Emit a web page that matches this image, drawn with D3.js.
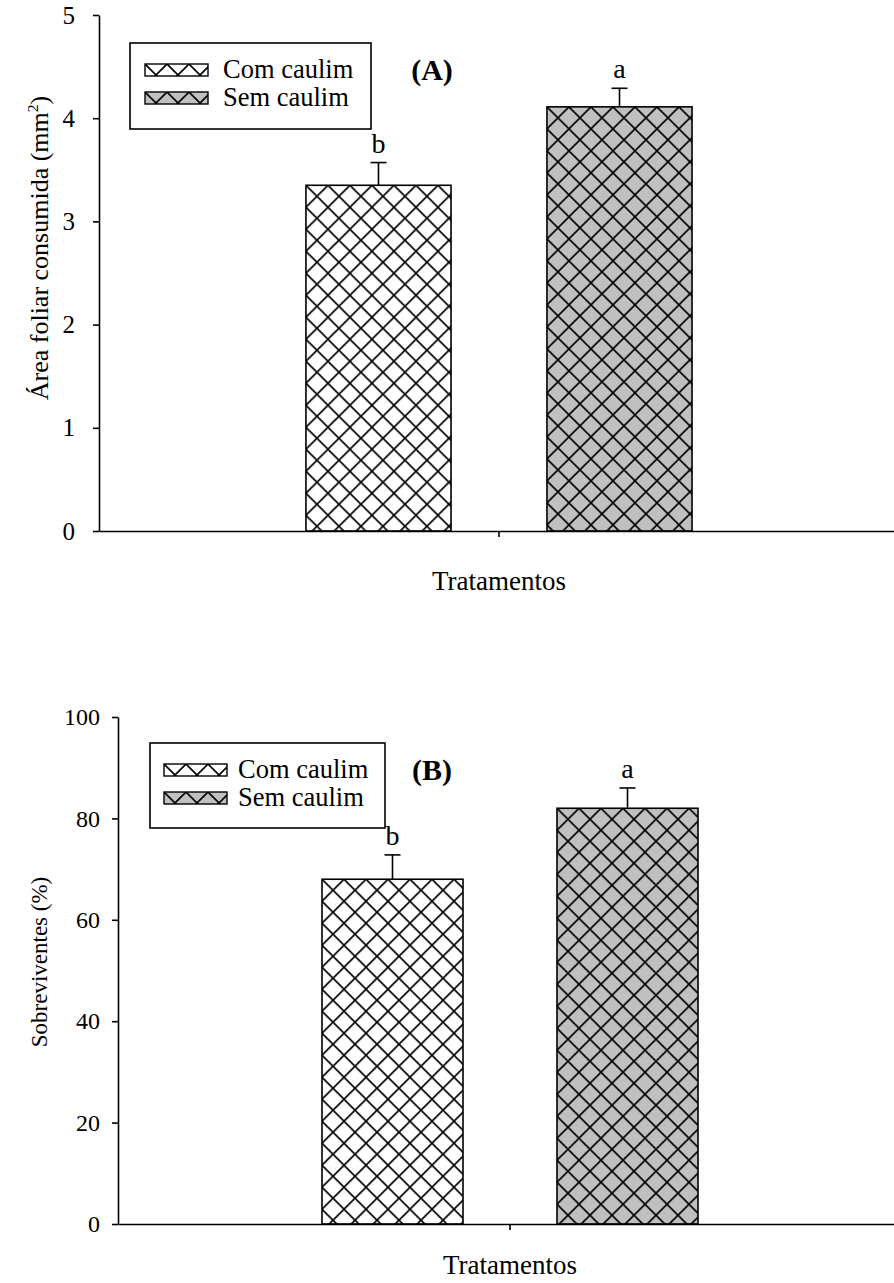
<!DOCTYPE html>
<html>
<head>
<meta charset="utf-8">
<script src="https://cdn.jsdelivr.net/npm/d3@7"></script>
<style>
  body { margin: 0; background: #fff; }
  svg text { font-family: "Liberation Serif", "Times New Roman", "DejaVu Serif", serif; fill: #000; }
</style>
</head>
<body>
<script>
// ---------- DATA ----------
const categories = ["Com caulim", "Sem caulim"];
const groupLabel = ["Tratamentos"];
const areaValues = [3.35, 4.11];
const areaErrors = [0.22, 0.18];
const survValues = [68, 82];
const survErrors = [4.8, 4.0];
const letters = ["b", "a"];
const areaTicks = [0, 1, 2, 3, 4, 5];
const survTicks = [0, 20, 40, 60, 80, 100];
const fills = ["#ffffff", "#c0c0c0"];

// ---------- SETUP ----------
const W = 894, H = 1283;
const svg = d3.select("body").append("svg").attr("width", W).attr("height", H);
const defs = svg.append("defs");
const SERIF = "'Liberation Serif', 'Times New Roman', 'DejaVu Serif', serif";

function makePattern(id, fill, tx, ty) {
  const p = defs.append("pattern").attr("id", id)
    .attr("patternUnits", "userSpaceOnUse")
    .attr("width", 22).attr("height", 22)
    .attr("patternTransform", `translate(${tx},${ty})`);
  p.append("rect").attr("width", 22).attr("height", 22).attr("fill", fill);
  p.append("path")
    .attr("d", "M0,0L22,22 M-11,11L11,33 M11,-11L33,11 M22,0L0,22 M-11,11L11,-11 M11,33L33,11")
    .attr("stroke", "#000").attr("stroke-width", 1.6).attr("fill", "none");
  return `url(#${id})`;
}

function drawPanel(cfg, values, errors, ticks) {
  const g = svg.append("g").style("font-family", SERIF);
  const y = d3.scaleLinear().domain([ticks[0], ticks[ticks.length - 1]]).range([cfg.y0, cfg.y1]);
  const xOuter = d3.scaleBand().domain(groupLabel).range([cfg.x0, cfg.x1])
    .paddingInner(0).paddingOuter(cfg.outerPad);
  const xInner = d3.scaleBand().domain(categories)
    .range([0, xOuter.bandwidth()]).paddingInner(cfg.innerPad).paddingOuter(0);

  // bars
  categories.forEach((c, i) => {
    const bx = xOuter(groupLabel[0]) + xInner(c);
    const by = y(values[i]);
    const fillUrl = makePattern(`${cfg.id}-bar-${i}`, fills[i], bx, by);
    g.append("rect")
      .attr("x", bx).attr("y", by)
      .attr("width", xInner.bandwidth()).attr("height", y(0) - by)
      .attr("fill", fillUrl).attr("stroke", "#000").attr("stroke-width", 1.6);
    // error bar (upper)
    const cx = bx + xInner.bandwidth() / 2;
    const ey = y(values[i] + errors[i]);
    g.append("line").attr("x1", cx).attr("x2", cx).attr("y1", by).attr("y2", ey)
      .attr("stroke", "#000").attr("stroke-width", 1.6);
    g.append("line").attr("x1", cx - 8).attr("x2", cx + 8).attr("y1", ey).attr("y2", ey)
      .attr("stroke", "#000").attr("stroke-width", 1.6);
    g.append("text").attr("x", cx).attr("y", ey - 10)
      .attr("text-anchor", "middle").attr("font-size", 28).text(letters[i]);
  });

  // y axis
  const yAxis = d3.axisLeft(y).tickValues(ticks).tickFormat(d3.format("d"))
    .tickSize(6).tickPadding(cfg.tickPad).tickSizeOuter(0);
  const ya = g.append("g").attr("transform", `translate(${cfg.x0},0)`).call(yAxis)
    .attr("font-family", null).attr("font-size", null);
  ya.select(".domain").attr("stroke", "#000").attr("stroke-width", 1.6);
  ya.selectAll(".tick line").attr("stroke", "#000").attr("stroke-width", 1.6);
  ya.selectAll(".tick text").attr("font-size", cfg.tickSize).attr("fill", "#000");

  // x axis
  const xAxis = d3.axisBottom(xOuter).tickSize(6).tickSizeOuter(0).tickFormat("");
  const xa = g.append("g").attr("transform", `translate(0,${cfg.y0})`).call(xAxis);
  xa.select(".domain").attr("stroke", "#000").attr("stroke-width", 1.6);
  xa.selectAll(".tick line").attr("stroke", "#000").attr("stroke-width", 1.6);

  // x title
  g.append("text").attr("x", xOuter(groupLabel[0]) + xOuter.bandwidth() / 2).attr("y", cfg.xTitleY)
    .attr("text-anchor", "middle").attr("font-size", cfg.titleSize).text(groupLabel[0]);

  // y title
  const yt = g.append("text")
    .attr("transform", `translate(${cfg.yTitleX},${cfg.yTitleY}) rotate(-90)`)
    .attr("text-anchor", "middle").attr("font-size", cfg.yTitleSize);
  yt.append("tspan").text(cfg.yTitle);
  if (cfg.yTitleSup) {
    yt.append("tspan").attr("dy", -10).attr("font-size", cfg.yTitleSize * 0.6).text(cfg.yTitleSup);
    yt.append("tspan").attr("dy", 10).text(cfg.yTitleEnd);
  }

  // panel letter
  g.append("text").attr("x", cfg.panelX).attr("y", cfg.panelY).attr("text-anchor", "middle")
    .attr("font-size", 30).attr("font-weight", "bold").text(cfg.panelLabel);

  // legend
  const L = cfg.legend;
  g.append("rect").attr("x", L.x).attr("y", L.y).attr("width", L.w).attr("height", L.h)
    .attr("fill", "#fff").attr("stroke", "#000").attr("stroke-width", 1.6);
  categories.forEach((c, i) => {
    const sx = L.x + L.sw, sy = L.y + 21 + i * 28;
    const url = makePattern(`${cfg.id}-leg-${i}`, fills[i], sx, sy);
    g.append("rect").attr("x", sx).attr("y", sy).attr("width", 63).attr("height", 12)
      .attr("fill", url).attr("stroke", "#000").attr("stroke-width", 1.4);
    g.append("text").attr("x", sx + L.tx).attr("y", sy + 14).attr("font-size", 26.5).text(c);
  });
}

drawPanel({
  id: "A", x0: 99, x1: 899, y0: 531, y1: 15, outerPad: 0.536, innerPad: 0.398, tickPad: 18, tickSize: 25,
  xTitleY: 590, titleSize: 27, yTitleX: 48, yTitleY: 248, yTitleSize: 26,
  yTitle: "Área foliar consumida (mm", yTitleSup: "2", yTitleEnd: ")",
  panelLabel: "(A)", panelX: 432, panelY: 80,
  legend: { x: 130, y: 43, w: 241, h: 86, sw: 15, tx: 78 }
}, areaValues, areaErrors, areaTicks);

drawPanel({
  id: "B", x0: 118, x1: 902, y0: 1224, y1: 717, outerPad: 0.5426, innerPad: 0.4, tickPad: 12, tickSize: 24,
  xTitleY: 1274, titleSize: 27, yTitleX: 47, yTitleY: 962, yTitleSize: 23,
  yTitle: "Sobreviventes (%)",
  panelLabel: "(B)", panelX: 432, panelY: 780,
  legend: { x: 150, y: 743, w: 235, h: 85, sw: 14, tx: 74 }
}, survValues, survErrors, survTicks);
</script>
</body>
</html>
